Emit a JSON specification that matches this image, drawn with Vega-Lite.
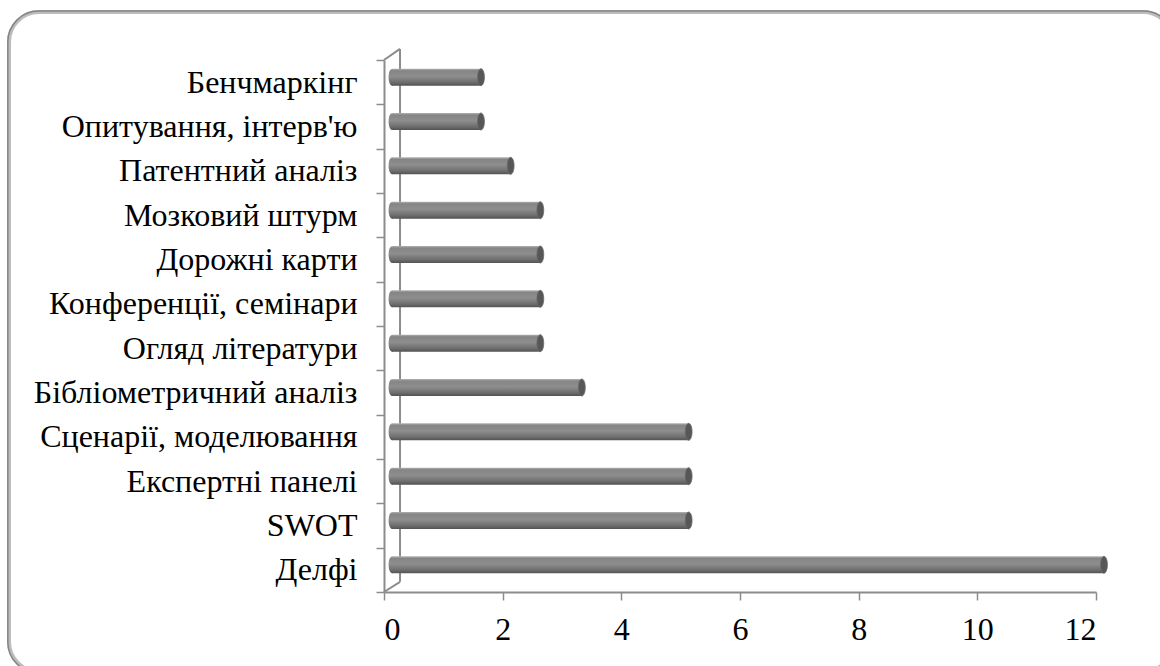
{
  "$schema": "https://vega.github.io/schema/vega-lite/v6.json",
  "width": 712,
  "height": 532,
  "autosize": {"type": "none"},
  "padding": {"left": 384, "top": 60, "right": 64, "bottom": 74},
  "background": "white",
  "config": {"view": {"stroke": null}, "font": "Liberation Serif"},
  "data": {
    "values": [
      {"method": "Бенчмаркінг", "count": 1.5},
      {"method": "Опитування, інтерв'ю", "count": 1.5},
      {"method": "Патентний аналіз", "count": 2},
      {"method": "Мозковий штурм", "count": 2.5},
      {"method": "Дорожні карти", "count": 2.5},
      {"method": "Конференції, семінари", "count": 2.5},
      {"method": "Огляд літератури", "count": 2.5},
      {"method": "Бібліометричний аналіз", "count": 3.2},
      {"method": "Сценарії, моделювання", "count": 5},
      {"method": "Експертні панелі", "count": 5},
      {"method": "SWOT", "count": 5},
      {"method": "Делфі", "count": 12}
    ]
  },
  "layer": [
    {
      "data": {"values": [{}]},
      "layer": [
        {
          "mark": {"type": "rect", "fill": null, "stroke": "#bdbdbd", "strokeWidth": 4, "cornerRadius": 30},
          "encoding": {
            "x": {"datum": -6.32, "type": "quantitative", "scale": {"domain": [0, 12], "nice": false}, "axis": null},
            "x2": {"datum": 13.3},
            "y": {"datum": 13.08, "type": "quantitative", "scale": {"domain": [0, 12], "nice": false, "zero": false}, "axis": null},
            "y2": {"datum": -1.8}
          }
        },
        {
          "mark": {"type": "rect", "fill": null, "stroke": "#858585", "strokeWidth": 1.5, "cornerRadius": 31},
          "encoding": {
            "x": {"datum": -6.34, "type": "quantitative", "scale": {"domain": [0, 12], "nice": false}, "axis": null},
            "x2": {"datum": 13.32},
            "y": {"datum": 13.105, "type": "quantitative", "scale": {"domain": [0, 12], "nice": false, "zero": false}, "axis": null},
            "y2": {"datum": -1.825}
          }
        },
        {
          "mark": {"type": "rule", "stroke": "#8c8c8c", "strokeWidth": 2},
          "encoding": {
            "x": {"datum": 0.27, "type": "quantitative", "scale": {"domain": [0, 12], "nice": false}, "axis": null},
            "y": {"datum": 0.23, "type": "quantitative", "scale": {"domain": [0, 12], "nice": false, "zero": false}, "axis": null},
            "y2": {"datum": 12.25}
          }
        },
        {
          "mark": {"type": "rule", "stroke": "#8c8c8c", "strokeWidth": 2},
          "encoding": {
            "x": {"datum": 0, "type": "quantitative", "scale": {"domain": [0, 12], "nice": false}, "axis": null},
            "x2": {"datum": 0.27},
            "y": {"datum": 12, "type": "quantitative", "scale": {"domain": [0, 12], "nice": false, "zero": false}, "axis": null},
            "y2": {"datum": 12.25}
          }
        },
        {
          "mark": {"type": "rule", "stroke": "#8c8c8c", "strokeWidth": 2},
          "encoding": {
            "x": {"datum": 0, "type": "quantitative", "scale": {"domain": [0, 12], "nice": false}, "axis": null},
            "x2": {"datum": 0.27},
            "y": {"datum": 0, "type": "quantitative", "scale": {"domain": [0, 12], "nice": false, "zero": false}, "axis": null},
            "y2": {"datum": 0.23}
          }
        }
      ]
    },
    {
      "encoding": {
        "y": {
          "field": "method",
          "type": "nominal",
          "sort": null,
          "scale": {"paddingInner": 0, "paddingOuter": 0},
          "axis": {
            "title": null,
            "labelFont": "Liberation Serif",
            "labelFontSize": 32,
            "labelColor": "#000000",
            "labelPadding": 19,
            "labelLimit": 500,
            "tickSize": 8,
            "tickBand": "extent",
            "tickColor": "#8c8c8c",
            "tickWidth": 1.5,
            "domainColor": "#8c8c8c",
            "domainWidth": 2
          }
        },
        "x": {
          "field": "count",
          "type": "quantitative",
          "scale": {"domain": [0, 12], "nice": false},
          "axis": {
            "title": null,
            "values": [0, 2, 4, 6, 8, 10, 12],
            "grid": false,
            "labelFont": "Liberation Serif",
            "labelFontSize": 32,
            "labelColor": "#000000",
            "labelPadding": 14,
            "tickSize": 8,
            "tickColor": "#8c8c8c",
            "tickWidth": 1.5,
            "domainColor": "#8c8c8c",
            "domainWidth": 2
          }
        }
      },
      "layer": [
        {
          "mark": {
            "type": "point",
            "shape": "M0,-1 A0.4,1 0 1,1 0,1 A0.4,1 0 1,1 0,-1 Z",
            "filled": true,
            "size": 289,
            "opacity": 1,
            "xOffset": 8,
            "yOffset": -5,
            "fill": {
              "gradient": "linear", "x1": 0, "y1": 0, "x2": 0, "y2": 1,
              "stops": [
                {"offset": 0, "color": "#b4b4b4"},
                {"offset": 0.12, "color": "#858585"},
                {"offset": 0.45, "color": "#8e8e8e"},
                {"offset": 0.8, "color": "#6e6e6e"},
                {"offset": 1, "color": "#525252"}
              ]
            }
          },
          "encoding": {"x": {"datum": 0, "type": "quantitative"}}
        },
        {
          "mark": {
            "type": "bar",
            "height": {"band": 0.385},
            "xOffset": 8,
            "x2Offset": 8,
            "yOffset": -5,
            "y2Offset": -5,
            "fill": {
              "gradient": "linear", "x1": 0, "y1": 0, "x2": 0, "y2": 1,
              "stops": [
                {"offset": 0, "color": "#b4b4b4"},
                {"offset": 0.12, "color": "#858585"},
                {"offset": 0.45, "color": "#8e8e8e"},
                {"offset": 0.8, "color": "#6e6e6e"},
                {"offset": 1, "color": "#525252"}
              ]
            }
          }
        },
        {
          "mark": {
            "type": "point",
            "shape": "M0,-1 A0.4,1 0 1,1 0,1 A0.4,1 0 1,1 0,-1 Z",
            "filled": true,
            "size": 289,
            "opacity": 1,
            "xOffset": 8,
            "yOffset": -5,
            "fill": "#575757",
            "stroke": "#6a6a6a",
            "strokeWidth": 0.8
          }
        }
      ]
    }
  ],
  "resolve": {"scale": {"x": "independent", "y": "independent"}, "axis": {"x": "independent", "y": "independent"}}
}
